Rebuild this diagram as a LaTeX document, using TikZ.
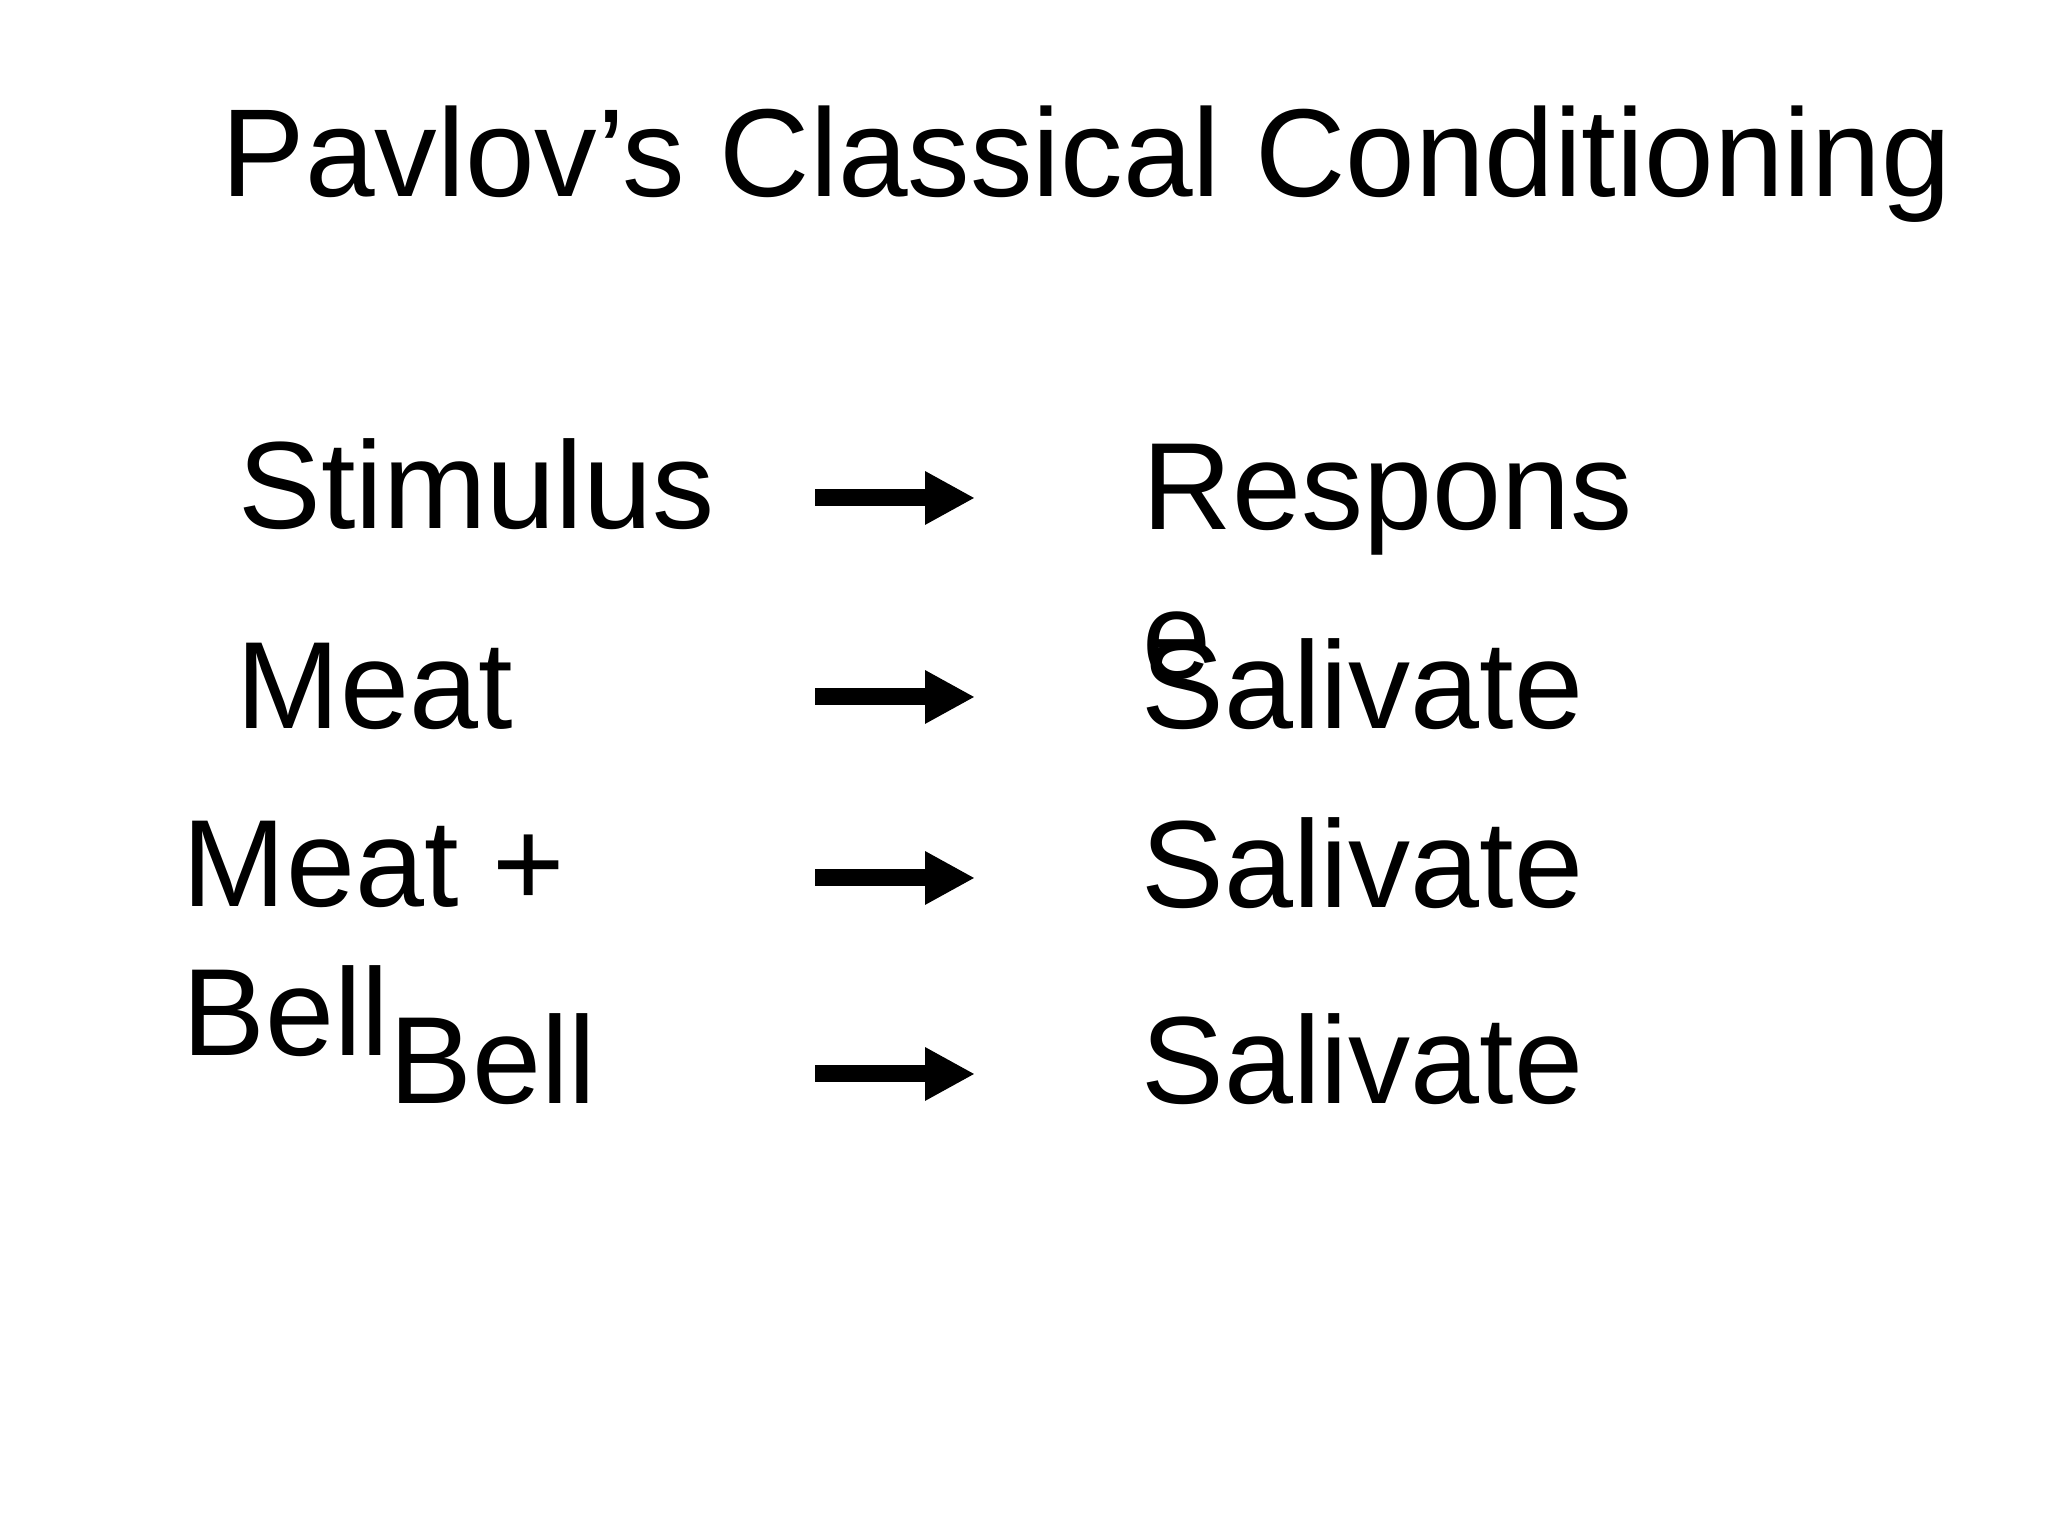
\documentclass[tikz,border=0pt]{standalone}
\usepackage{fontspec}
\setmainfont{Liberation Sans}
\usetikzlibrary{arrows.meta,positioning}

\begin{document}
\begin{tikzpicture}
			\tikzstyle{Word}	= [anchor=base west, inner sep=0pt, font=\fontsize{35.3}{42.5}\selectfont, align=left]
			\tikzstyle{Head}	= [Word, font=\fontsize{35.6}{42.5}\selectfont]
			\tikzstyle{Leads}	= [line width=1.7mm, -{Triangle[length=5mm, width=5mm]}]

			\useasboundingbox (0,0) rectangle (20.48,15.36);

			\node (title) at (2.21, 13.39) [Head] {Pavlov’s Classical Conditioning};

			% multi-line nodes sit on the baseline of their last line
			\node (s0) at (2.38, 10.07) [Word] {Stimulus};
			\node (s1) at (2.36, 8.07) [Word] {Meat};
			\node (s2) at (1.82, 4.80) [Word] {Meat +\\Bell};
			\node (s3) at (3.89, 4.32) [Word] {Bell};

			\node (r0) at (11.42, 8.57) [Word] {Respons\\e};
			\node (r1) at (11.41, 8.07) [Word] {Salivate};
			\node (r2) at (11.41, 6.28) [Word] {Salivate};
			\node (r3) at (11.41, 4.32) [Word] {Salivate};

			\coordinate (a0) at (8.15, 10.38);	\coordinate (b0) at (9.75, 10.38);
			\coordinate (a1) at (8.15, 8.39);	\coordinate (b1) at (9.75, 8.39);
			\coordinate (a2) at (8.15, 6.58);	\coordinate (b2) at (9.75, 6.58);
			\coordinate (a3) at (8.15, 4.62);	\coordinate (b3) at (9.75, 4.62);

			\draw (a0) to (b0) [Leads];
			\draw (a1) to (b1) [Leads];
			\draw (a2) to (b2) [Leads];
			\draw (a3) to (b3) [Leads];
		\end{tikzpicture}
\end{document}
